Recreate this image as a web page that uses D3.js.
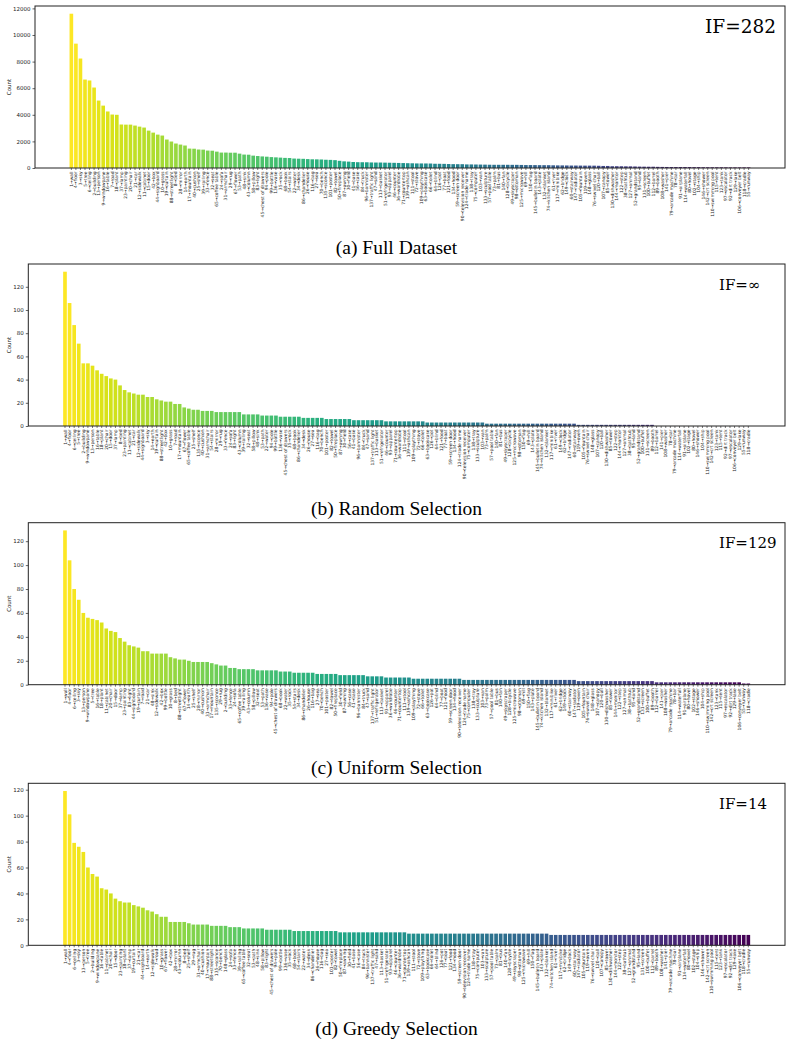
<!DOCTYPE html>
<meta http-equiv="Content-type" content="text/html; charset=UTF-8"/>
<style>
body { margin: 0; background: #fff; }
svg text { font-family: 'DejaVu Sans'; }
</style>
<svg width="793" height="1046"></svg>
<script src="https://d3js.org/d3.v7.min.js"></script>
<script>
// ADE20K class names, id = position + 1
var classNames = ["wall","building","sky","floor","tree","ceiling","road","bed","windowpane","grass",
"cabinet","sidewalk","person","earth","door","table","mountain","plant","curtain","chair",
"car","water","painting","sofa","shelf","house","sea","mirror","rug","field",
"armchair","seat","fence","desk","rock","wardrobe","lamp","bathtub","railing","cushion",
"base","box","column","signboard","chest of drawers","counter","sand","sink","skyscraper","fireplace",
"refrigerator","grandstand","path","stairs","runway","case","pool table","pillow","screen door","stairway",
"river","bridge","bookcase","blind","coffee table","toilet","flower","book","hill","bench",
"countertop","stove","palm","kitchen island","computer","swivel chair","boat","bar","arcade machine","hovel",
"bus","towel","light","truck","tower","chandelier","awning","streetlight","booth","television receiver",
"airplane","dirt track","apparel","pole","land","bannister","escalator","ottoman","bottle","buffet",
"poster","stage","van","ship","fountain","conveyer belt","canopy","washer","plaything","swimming pool",
"stool","barrel","basket","waterfall","tent","bag","minibike","cradle","oven","ball",
"food","step","tank","trade name","microwave","pot","animal","bicycle","lake","dishwasher",
"screen","blanket","sculpture","hood","sconce","vase","traffic light","tray","ashcan","fan",
"pier","crt screen","plate","monitor","bulletin board","shower","radiator","glass","clock","flag"];

// (a) full dataset
var fullOrder = [1,4,3,5,6,2,13,9,16,7, 18,37,23,20,21,12,11,15,42,44, 10,19,88,8,28,14,17,40,25,39,
  33,32,65,24,31,29,67,53,48,43, 58,83,45,94,99,136,35,68,54,22, 34,86,26,116,27,70,135,101,82,50,
  87,30,41,56,84,96,137,47,113,51, 93,46,36,71,139,111,72,109,63,66, 64,126,77,121,134,59,90,124,138,75,
  103,133,57,73,81,140,128,49,98,125, 69,150,145,143,132,74,61,117,62,149, 60,147,105,119,148,76,120,107,85,130,
  144,122,38,127,52,95,131,100,112,89, 108,141,79,78,91,114,80,102,104,146, 142,110,115,123,97,92,129,106,118,55];
var fullCounts = [11600,9350,8230,6650,6580,6050,5070,4690,4250,4020, 4000,3270,3260,3260,3190,3110,3040,2810,2660,2510,
  2440,2140,1990,1840,1760,1690,1460,1450,1390,1380, 1310,1300,1230,1160,1160,1150,1150,1080,1010,1000,
  930,900,870,850,820,800,780,760,750,710, 700,690,670,655,650,640,620,610,590,540,
  500,480,450,436,433,430,417,411,411,403, 396,389,380,370,361,354,343,342,340,336,
  319,317,311,299,289,286,286,269,269,263, 258,253,246,241,241,241,240,238,237,230,
  221,221,218,214,212,211,202,196,195,190, 184,184,181,178,178,176,167,154,153,134,
  134,131,125,123,114,105,100,96,96,86, 81,77,73,72,72,71,70,62,62,55,
  53,52,51,50,47,42,42,41,41,41];

// (b) random selection
var randomOrder = [1,4,6,5,2,9,13,16,18,20, 15,37,8,23,11,21,12,44,3,14, 19,88,42,10,7,17,67,65,25,135,
  40,31,54,28,29,33,24,83,43,39, 32,58,48,53,22,94,99,136,45,35, 68,86,34,26,27,116,70,101,82,50,
  87,30,56,41,96,84,47,137,113,51, 46,93,71,36,111,139,109,72,66,63, 126,64,121,77,59,134,124,90,75,138,
  133,103,73,57,140,81,49,128,125,98, 150,69,143,145,74,132,117,61,149,62, 147,60,119,105,76,148,107,120,130,85,
  122,144,127,38,95,52,100,131,89,112, 141,108,78,79,114,91,102,80,146,104, 110,142,123,115,92,97,106,129,55,118];
var randomCounts = [133,106,87,71,54,54,52,48,45,43, 41,40,35,31,29,28,27,27,25,25,
  23,22,21,21,19,19,16,15,14,14, 13,13,13,12,12,12,12,12,12,10,
  10,10,10,9,9,9,9,8,8,8, 8,8,7,7,7,7,7,6,6,6,
  6,6,6,5,5,5,5,5,5,5, 4,4,4,4,4,4,4,4,4,3,
  3,3,3,3,3,3,3,3,3,3, 3,3,2,2,2,2,2,2,2,2,
  2,2,2,2,2,2,2,2,2,2, 2,2,1,1,1,1,1,1,1,1,
  1,1,1,1,1,1,1,1,1,0, 0,0,0,0,0,0,0,0,0,0,
  0,0,0,0,0,0,0,0,0,0];

// (c) uniform selection
var uniformOrder = [1,4,6,3,13,9,5,16,18,11, 20,15,37,23,83,44,19,7,21,48, 12,42,99,10,8,88,67,14,25,28,
  40,31,17,135,29,2,33,24,65,39, 43,58,32,53,136,94,45,68,22,35, 54,34,86,26,116,27,70,101,82,50,
  30,87,56,41,96,84,47,137,51,113, 93,36,46,71,111,139,109,72,66,63, 126,64,77,121,59,134,90,124,75,138,
  133,103,73,57,81,140,49,128,125,98, 69,150,143,145,74,132,117,61,62,149, 60,147,119,105,76,148,107,120,130,85,
  144,122,127,38,95,52,131,100,89,112, 141,108,79,78,114,91,80,102,146,104, 110,142,123,115,97,92,129,106,55,118];
var uniformCounts = [129,104,80,71,60,56,55,54,52,47, 45,44,39,36,33,32,31,28,28,26,
  26,26,26,23,22,21,21,20,19,19, 19,19,18,17,16,16,14,14,13,13,
  13,13,12,12,12,12,12,11,11,11, 10,10,10,10,10,9,9,9,9,9,
  8,8,8,8,8,8,7,7,7,7, 6,6,6,6,6,6,5,5,5,5,
  5,5,5,5,5,5,5,4,4,4, 4,4,4,4,4,4,4,4,4,4,
  4,4,4,4,4,4,4,4,4,4, 4,4,3,3,3,3,3,3,3,3,
  3,3,3,3,3,3,3,3,3,2, 2,2,2,2,2,2,2,2,2,2,
  2,2,2,2,2,2,2,2,1,1];

// (d) greedy selection
var greedyOrder = [1,4,6,3,13,5,2,9,16,11, 20,15,23,18,37,19,21,44,14,12, 7,10,67,42,28,43,8,25,29,31,
  40,17,88,135,70,148,24,33,39,65, 32,53,48,58,83,45,94,99,136,35, 68,54,22,34,86,26,116,27,101,82,
  50,87,30,41,56,84,96,137,47,113, 51,93,46,36,71,139,111,72,109,63, 66,64,126,77,121,134,59,90,124,138,
  75,103,133,57,73,81,140,128,49,98, 125,69,150,145,143,132,74,61,117,62, 149,60,147,105,119,76,120,107,85,130,
  144,122,38,127,52,95,131,100,112,89, 108,141,79,78,91,114,80,102,104,146, 142,110,115,123,97,92,129,106,118,55];
var greedyCounts = [119,101,79,76,72,60,55,53,44,43, 40,36,34,33,33,31,30,29,27,26,
  24,22,22,18,18,18,18,17,16,16, 16,16,15,15,15,15,14,14,14,13,
  13,13,13,13,12,12,12,12,12,12, 11,11,11,11,11,11,11,11,11,11,
  10,10,10,10,10,10,10,10,10,10, 10,10,10,10,10,9,9,9,9,9,
  9,9,9,9,9,9,9,9,9,9, 9,9,9,9,9,9,9,9,9,9,
  9,9,9,9,9,9,8,8,8,8, 8,8,8,8,8,8,8,8,8,8,
  8,8,8,8,8,8,8,8,8,8, 8,8,8,8,8,8,8,8,8,8,
  8,8,8,8,8,8,8,8,8,8];

var countTicks = [0,2000,4000,6000,8000,10000,12000];
var sampleTicks = [0,20,40,60,80,100,120];

var panels = [
  {top: 6,     left: 35,   order: fullOrder,    counts: fullCounts,    ticks: countTicks,  imb: "IF=282", imbX: 705, imbY: 27, imbSize: 18.5, caption: "(a) Full Dataset",      capY: 254},
  {top: 264,   left: 28.3, order: randomOrder,  counts: randomCounts,  ticks: sampleTicks, imb: "IF=\u221e", imbX: 719, imbY: 26, imbSize: 15, caption: "(b) Random Selection",  capY: 515},
  {top: 522.7, left: 28.3, order: uniformOrder, counts: uniformCounts, ticks: sampleTicks, imb: "IF=129", imbX: 719, imbY: 25.5, imbSize: 15, caption: "(c) Uniform Selection", capY: 774},
  {top: 783.3, left: 28.3, order: greedyOrder,  counts: greedyCounts,  ticks: sampleTicks, imb: "IF=14",  imbX: 719, imbY: 25.5, imbSize: 15, caption: "(d) Greedy Selection",  capY: 1035}
];

var svg = d3.select("svg"),
    right = 785,
    height = 162;

panels.forEach(function(p) {
  var g = svg.append("g").attr("transform", "translate(0," + p.top + ")");
  var w = right - p.left,
      pad = w * 0.04545;

  var x = d3.scaleBand()
      .domain(d3.range(p.counts.length))
      .range([p.left + pad, right - pad])
      .paddingInner(0.2)
      .paddingOuter(0.1);

  var y = d3.scaleLinear()
      .domain([0, d3.max(p.counts) * 1.05])
      .range([height, 0]);

  g.selectAll("rect.bar")
    .data(p.counts)
    .enter().append("rect")
      .attr("class", "bar")
      .attr("x", function(d, i) { return x(i); })
      .attr("width", x.bandwidth())
      .attr("y", function(d) { return y(d); })
      .attr("height", function(d) { return height - y(d); })
      .attr("fill", function(d, i) { return d3.interpolateViridis(1 - i / (p.counts.length - 1)); });

  // x labels "id→name"
  var xa = g.append("g")
      .attr("transform", "translate(0," + height + ")")
      .call(d3.axisBottom(x)
        .tickSize(2)
        .tickSizeOuter(0)
        .tickFormat(function(i) { var id = p.order[i]; return id + "\u2192" + classNames[id - 1]; }));
  xa.select(".domain").remove();
  xa.selectAll("line").attr("stroke", "#222").attr("stroke-width", 0.6);
  xa.selectAll("text")
      .attr("transform", "rotate(-90)")
      .attr("text-anchor", "end")
      .attr("x", -3.5)
      .attr("y", 0)
      .attr("dy", "0.35em")
      .attr("fill", "#222")
      .style("font-size", "4.4px");

  var ya = g.append("g")
      .attr("transform", "translate(" + p.left + ",0)")
      .call(d3.axisLeft(y).tickValues(p.ticks).tickFormat(d3.format("d"))
        .tickSize(2.5).tickPadding(2).tickSizeOuter(0));
  ya.select(".domain").remove();
  ya.selectAll("line").attr("stroke", "#222").attr("stroke-width", 0.7);
  ya.selectAll("text").attr("fill", "#222").style("font-size", "5.5px");

  g.append("text")
      .attr("transform", "translate(9," + (height / 2) + ") rotate(-90)")
      .attr("text-anchor", "middle")
      .attr("dy", "0.35em")
      .style("font-size", "5.5px")
      .attr("fill", "#222")
      .text("Count");

  g.append("rect")
      .attr("x", p.left)
      .attr("y", 0)
      .attr("width", w)
      .attr("height", height)
      .attr("fill", "none")
      .attr("stroke", "#222")
      .attr("stroke-width", 1);

  g.append("text")
      .attr("x", p.imbX)
      .attr("y", p.imbY)
      .style("font-family", "'DejaVu Serif'")
      .style("font-size", p.imbSize + "px")
      .text(p.imb);

  svg.append("text")
      .attr("x", 396.5)
      .attr("y", p.capY)
      .attr("text-anchor", "middle")
      .style("font-family", "'Liberation Serif'")
      .style("font-size", "19.5px")
      .text(p.caption);
});
</script>
